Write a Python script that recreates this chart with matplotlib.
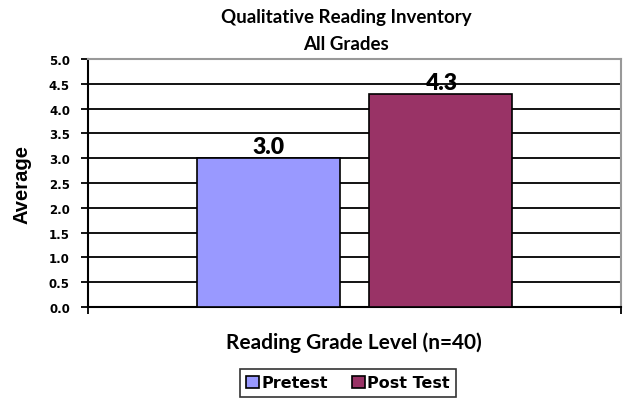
import matplotlib
matplotlib.use("Agg")
import matplotlib.pyplot as plt
import numpy as np

title_lines = ["Qualitative Reading Inventory", "All Grades"]
series = ["Pretest", "Post Test"]
values = [3.0, 4.3]
colors = ["#9999FF", "#993366"]
yticks = [0.0, 0.5, 1.0, 1.5, 2.0, 2.5, 3.0, 3.5, 4.0, 4.5, 5.0]
xlabel = "Reading Grade Level (n=40)"
ylabel = "Average"

fig = plt.figure(figsize=(6.24, 4.02), dpi=100)
ax = fig.add_axes([88/624, 1-308/402, (621-88)/624, (308-60)/402])

width = 0.268
gap = 0.055
x = np.array([(i - (len(values)-1)/2) * (width + gap) for i in range(len(values))])
bars = ax.bar(x, values, width=width, color=colors, edgecolor="black", linewidth=1.2, zorder=3, label=series)

ax.set_xlim(-0.5, 0.5)
ax.set_ylim(0, 5)
ax.set_yticks(yticks)
ax.set_yticklabels([f"{v:.1f}" for v in yticks], fontfamily="DejaVu Sans", fontweight="bold", fontsize=8.5)
ax.yaxis.grid(True, color="black", linewidth=1.3, zorder=0)
ax.set_axisbelow(True)
ax.set_xticks([-0.5, 0.5])
ax.set_xticklabels([])
ax.tick_params(axis="x", direction="out", length=5, width=1.3)
ax.tick_params(axis="y", direction="out", length=5, width=1.3, pad=8)

for s in ["top", "right"]:
    ax.spines[s].set_color("#999999")
    ax.spines[s].set_linewidth(1.5)
for s in ["left", "bottom"]:
    ax.spines[s].set_color("black")
    ax.spines[s].set_linewidth(1.5)

for xi, v in zip(x, values):
    ax.text(xi, v + 0.02, f"{v:.1f}", ha="center", va="bottom", fontsize=16.5, fontfamily="Lato", fontweight="heavy")

fig.text(346/624, 1-18/402, title_lines[0], ha="center", va="center", fontsize=13.5, fontfamily="Lato", fontweight="bold")
fig.text(346/624, 1-45/402, title_lines[1], ha="center", va="center", fontsize=13.5, fontfamily="Lato", fontweight="bold")
fig.text(354/624, 1-343/402, xlabel, ha="center", va="center", fontsize=15, fontfamily="Lato", fontweight="bold")
fig.text(22/624, 1-185/402, ylabel, ha="center", va="center", rotation=90, fontsize=14.5, fontfamily="Liberation Sans", fontweight="bold")

leg = fig.legend(handles=bars.patches, labels=series, loc="center", bbox_to_anchor=(348/624, 1-384/402),
                 ncol=2, frameon=True, fancybox=False, edgecolor="black", handlelength=0.8, handleheight=0.8,
                 handletextpad=0.15, columnspacing=1.5, borderpad=0.4, borderaxespad=0,
                 prop={"family": "DejaVu Sans", "weight": "bold", "size": 11.5})
leg.get_frame().set_linewidth(1.2)

fig.savefig("out.png", dpi=100)
